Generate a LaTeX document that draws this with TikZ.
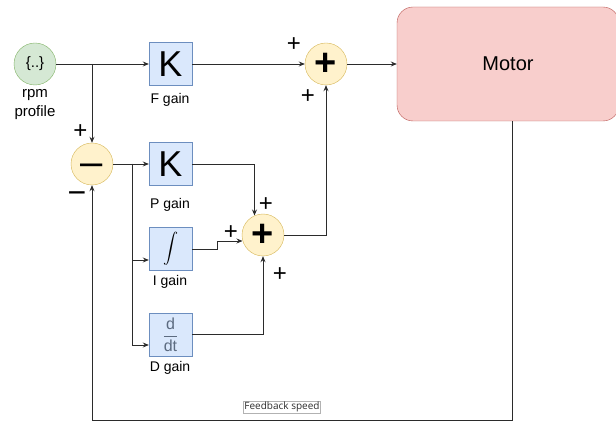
\documentclass[tikz,border=0pt]{standalone}
\usepackage{fontspec}
\usepackage{unicode-math}
\setmainfont{Liberation Sans}
\setmathfont{Latin Modern Math}
\newfontfamily\lblfont{Open Sans}
\usetikzlibrary{arrows.meta,calc}
\definecolor{gfill}{HTML}{D5E8D4}
\definecolor{gstroke}{HTML}{82B366}
\definecolor{bfill}{HTML}{DAE8FC}
\definecolor{bstroke}{HTML}{6C8EBF}
\definecolor{yfill}{HTML}{FFF2CC}
\definecolor{ystroke}{HTML}{D6B656}
\definecolor{rfill}{HTML}{F8CECC}
\definecolor{rstroke}{HTML}{B85450}
\definecolor{dtcol}{HTML}{5C6B80}
\definecolor{wirecol}{HTML}{2B2B2B}
\begin{document}
\begin{tikzpicture}[x=1pt,y=-1pt,
  gainbox/.style={draw=bstroke, fill=bfill, minimum width=43pt, minimum height=43pt, inner sep=0pt},
  sumnode/.style={circle, draw=ystroke, fill=yfill, minimum size=42pt, inner sep=0pt},
  wire/.style={draw=wirecol, line width=0.9pt},
  arr/.style={wire, -{Stealth[length=6pt,width=5pt]}},
  sign/.style={font=\fontsize{24}{24}\selectfont, inner sep=0pt, text height=16.8pt, text depth=0pt},
  caption/.style={font=\fontsize{14}{16}\selectfont, inner sep=0pt}
]
\useasboundingbox (0,0) rectangle (616,422);

% nodes
\node[circle, draw=gstroke, fill=gfill, minimum size=42pt, inner sep=0pt] (rpm) at (35,64) {\fontsize{15}{15}\selectfont\{..\}};
\node[caption, align=center, font=\fontsize{15}{19}\selectfont] (rpml) at (35,105) {rpm\\profile};

\node[gainbox] (fg) at (170.5,64) {\fontsize{36}{36}\selectfont K};
\node[caption] (fgl) at (170,100) {F gain};

\node[sumnode] (s1) at (326,64) {\fontsize{38}{38}\selectfont\bfseries +};
\node[draw=rstroke, fill=rfill, rounded corners=16pt, minimum width=222pt, minimum height=114pt, font=\fontsize{20}{20}\selectfont] (motor) at (508,64) {Motor};

\node[sumnode, text height=23pt, text depth=0pt, font=\fontsize{40}{40}\selectfont] (m) at (92,164) {–};
\node[gainbox] (pg) at (170.5,164) {\fontsize{36}{36}\selectfont K};
\node[caption] (pgl) at (170,205) {P gain};

\node[sumnode] (s2) at (263,235) {\fontsize{38}{38}\selectfont\bfseries +};
\node[gainbox] (ig) at (170.5,249) {\fontsize{15}{15}\selectfont$\displaystyle\int$};
\node[caption] (igl) at (170,282) {I gain};

\node[gainbox] (dg) at (170.5,334.5) {\color{dtcol}\fontsize{16}{16}\selectfont$\displaystyle\frac{\mbox{d}}{\mbox{dt}}$};
\node[caption] (dgl) at (170,368) {D gain};

% sign labels
\node[sign] (p1) at (294,43) {+};
\node[sign] (p2) at (308,95) {+};
\node[sign] (p3) at (80.5,130.5) {+};
\node[sign, font=\fontsize{32}{32}\selectfont, text height=21pt] (n1) at (77,193) {−};
\node[sign] (p4) at (266,203) {+};
\node[sign] (p5) at (231,231) {+};
\node[sign] (p6) at (280,273) {+};

% helper coordinates
\coordinate (b1) at (92,64);
\coordinate (b2) at (132,164);
\coordinate (s2tl) at ($(s2.center)+(-8.5,-19.5)$);
\coordinate (s2in) at ($(s2.center)+(-20.5,6)$);
\coordinate (ijog) at (217,249);
\coordinate (fbtop) at ($(motor.south)+(4,0)$);
\coordinate (fbr) at (512,420);
\coordinate (fbl) at (92,420);

% connectors
\draw[arr] (rpm) -- (fg);
\draw[arr] (b1) -- (m);
\draw[arr] (fg) -- (s1);
\draw[arr] (s1) -- (motor);
\draw[arr] (m) -- (pg);
\draw[arr] (b2) |- ($(ig.west)+(0,11)$);
\draw[arr] (b2) |- ($(dg.west)+(0,10.5)$);
\draw[arr] (pg.east) -| (s2tl);
\draw[arr] (ig.east) -- (ijog) |- (s2in);
\draw[arr] (dg.east) -| (s2.south);
\draw[arr] (s2.east) -| (s1.south);
\draw[arr] (fbtop) -- (fbr) -- (fbl) -- (m.south);

\node[draw=gray!60, line width=0.5pt, inner sep=1pt, text=wirecol, font=\lblfont\fontsize{10}{10}\selectfont] (fbtext) at (282,407) {Feedback speed};
\end{tikzpicture}
\end{document}
